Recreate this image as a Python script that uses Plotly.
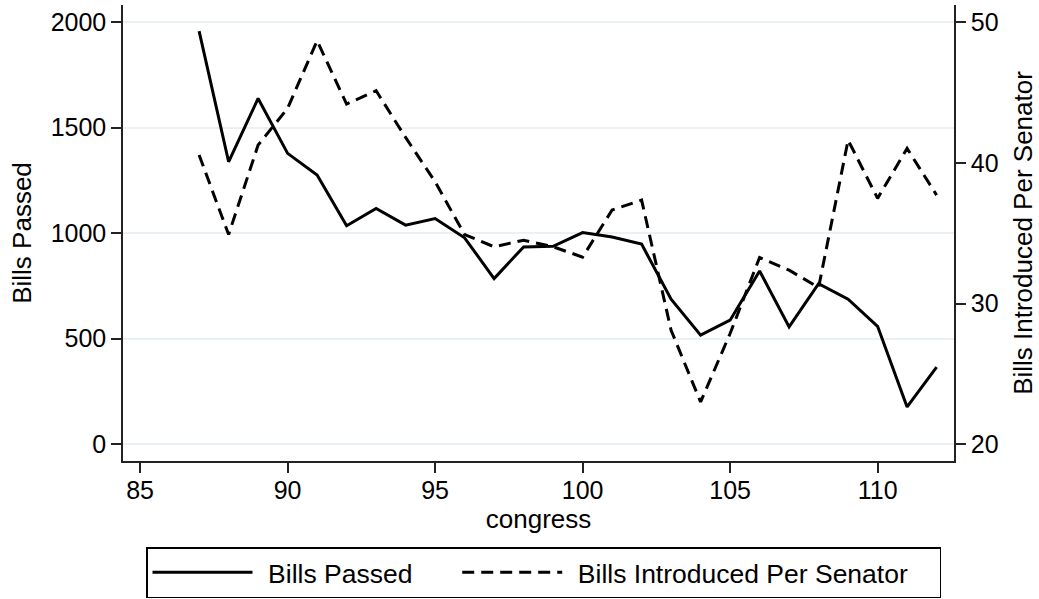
import plotly.graph_objects as go

congress = list(range(87, 113))
bills_passed = [1957, 1338, 1638, 1378, 1275, 1035, 1117, 1038, 1069, 978, 785, 935,
                938, 1003, 982, 948, 687, 517, 588, 821, 556, 761, 687, 559, 177, 366]
bills_per_senator = [40.55, 34.9, 41.26, 43.87, 48.67, 44.17, 45.12, 41.8, 38.65, 34.9,
                     34.03, 34.5, 34.03, 33.3, 36.64, 37.35, 28.1, 23.0, 27.87, 33.27,
                     32.37, 31.14, 41.61, 37.47, 41.02, 37.7]

x_ticks = [85, 90, 95, 100, 105, 110]
y_ticks = [0, 500, 1000, 1500, 2000]
y2_ticks = [20, 30, 40, 50]

FONT = "Liberation Sans, Arial, Helvetica, sans-serif"
THIN = "\u2009"
EN = "\u2002"

fig = go.Figure()
fig.add_trace(go.Scatter(
    x=congress, y=bills_passed, mode="lines",
    name=THIN * 2 + "Bills Passed" + EN * 3,
    line=dict(color="black", width=3), yaxis="y"))
fig.add_trace(go.Scatter(
    x=congress, y=bills_per_senator, mode="lines",
    name=THIN * 2 + "Bills Introduced Per Senator" + EN * 2,
    line=dict(color="black", width=3, dash="12px,7px"), yaxis="y2"))

axis_common = dict(
    showline=True, linecolor="#222", linewidth=1.5,
    ticks="outside", ticklen=10, tickwidth=1.5, tickcolor="#222",
    tickfont=dict(size=25, color="black", family=FONT),
    zeroline=False, automargin=False,
)

fig.update_layout(
    width=1039, height=599,
    margin=dict(l=123, r=85, t=5, b=138),
    paper_bgcolor="white", plot_bgcolor="white",
    font=dict(family=FONT, color="black"),
    xaxis=dict(
        range=[84.42, 112.59], tickmode="array", tickvals=x_ticks,
        showgrid=False, ticklabelstandoff=-4,
        title=dict(text="congress", font=dict(size=26), standoff=0),
        **axis_common),
    yaxis=dict(
        range=[-79, 2080.5], tickmode="array", tickvals=y_ticks,
        showgrid=True, gridcolor="#eaf0f3", gridwidth=1.5,
        title=dict(text="Bills Passed", font=dict(size=26), standoff=12),
        **axis_common),
    yaxis2=dict(
        range=[18.81, 51.21], tickmode="array", tickvals=y2_ticks,
        overlaying="y", side="right", showgrid=False,
        title=dict(text="Bills Introduced Per Senator", font=dict(size=26), standoff=16),
        **axis_common),
    showlegend=True,
    legend=dict(
        orientation="h", xref="container", yref="container",
        x=146 / 1039, xanchor="left", y=1 - 547 / 599, yanchor="top",
        bordercolor="black", borderwidth=1.5, bgcolor="white",
        font=dict(size=26.5, family=FONT), itemwidth=100,
    ),
)

fig.write_html(
    "out.html",
    config={"displayModeBar": False},
    post_script="document.body.style.margin='0';document.body.style.overflow='hidden';",
)
